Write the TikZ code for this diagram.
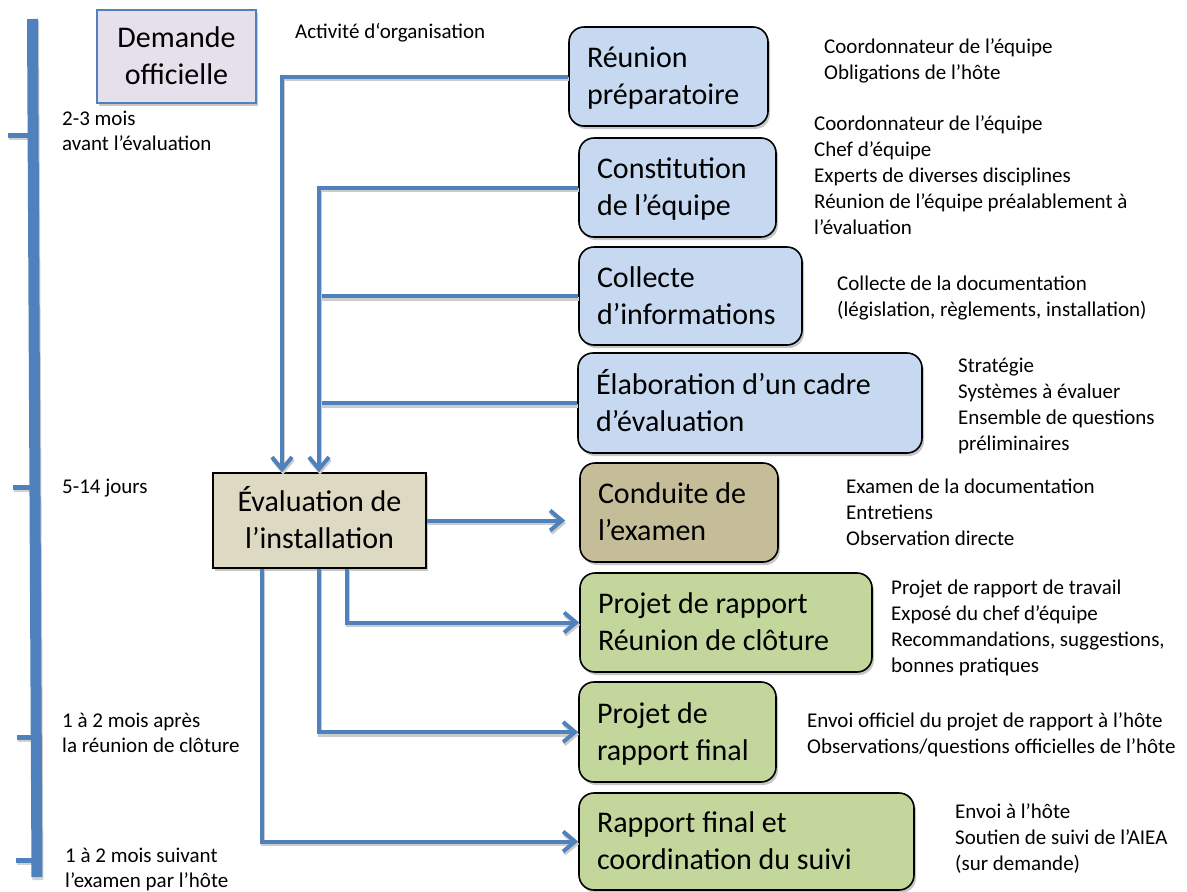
\documentclass[tikz,border=0pt]{standalone}
\usepackage{fontspec}
\setmainfont{Carlito}
\usetikzlibrary{arrows.meta,shadows,calc}
\definecolor{lnblue}{HTML}{4F81BD}
\definecolor{lav}{HTML}{E6E0EC}
\definecolor{ltblue}{HTML}{C6D9F1}
\definecolor{tanc}{HTML}{C4BD97}
\definecolor{beige}{HTML}{DDD9C3}
\definecolor{ltgreen}{HTML}{C3D69B}
\newcommand{\bigfnt}{\fontsize{30}{37}\selectfont}
\newcommand{\smfnt}{\fontsize{21}{26}\selectfont}
\newcommand{\tlfnt}{\fontsize{21}{25}\selectfont}
\newcommand{\topst}{\rule{0pt}{31pt}}
\hyphenpenalty=10000
\exhyphenpenalty=10000
\tikzset{
  shad/.style={drop shadow={shadow xshift=2pt, shadow yshift=-3pt, fill=black!22, opacity=1}},
  stage/.style={draw=black, line width=1.6pt, rounded corners=15pt, inner xsep=18pt, inner ysep=0pt, align=flush left, font=\bigfnt, shad},
  plainbox/.style={line width=1.6pt, inner xsep=10pt, inner ysep=0pt, align=flush center, font=\bigfnt, shad},
  conn/.style={draw=lnblue, line width=4pt, preaction={draw=black!20, line width=4pt, transform canvas={shift={(1pt,-2.5pt)}}}},
  arr/.style={-{Straight Barb[length=12pt,width=20pt]}},
  tlshadow/.style={draw=black!18, line width=11pt},
  tl/.style={draw=lnblue, line width=11pt},
  tickshadow/.style={draw=black!18, line width=5pt},
  tick/.style={draw=lnblue, line width=5pt},
  lst/.style={anchor=base west, inner sep=0pt, font=\smfnt},
  tlab/.style={anchor=base west, inner sep=0pt, font=\tlfnt},
}
\begin{document}
\begin{tikzpicture}[x=1pt,y=-1pt]
\useasboundingbox (0,0) rectangle (1187,892);

% timeline
\coordinate (tTop) at (32.5,19);
\coordinate (tBot) at (37,877);
\coordinate (k1) at (8,135);
\coordinate (k2) at (13,487);
\coordinate (k3) at (17,737);
\coordinate (k4) at (16,860);
\draw[tlshadow] ($(tTop)+(1,2)$) -- ($(tBot)+(1,3)$);
\draw[tickshadow] ($(k1)+(1,2.5)$) -- ++(26,0);
\draw[tickshadow] ($(k2)+(1,2.5)$) -- ++(23,0);
\draw[tickshadow] ($(k3)+(1,2.5)$) -- ++(20,0);
\draw[tickshadow] ($(k4)+(1,2.5)$) -- ++(21,0);
\draw[tl] (tTop) -- (tBot);
\draw[tick] (k1) -- ++(26,0);
\draw[tick] (k2) -- ++(23,0);
\draw[tick] (k3) -- ++(20,0);
\draw[tick] (k4) -- ++(21,0);

\node[tlab] (t1) at (62,125) {\begin{tabular}[t]{@{}l@{}}2-3 mois\\avant l’évaluation\end{tabular}};
\node[tlab] (t2) at (62,493) {5-14 jours};
\node[tlab] (t3) at (62,727) {\begin{tabular}[t]{@{}l@{}}1 à 2 mois après\\la réunion de clôture\end{tabular}};
\node[tlab] (t4) at (65,862) {\begin{tabular}[t]{@{}l@{}}1 à 2 mois suivant\\l’examen par l’hôte\end{tabular}};

% boxes
\node[plainbox, draw=lnblue, fill=lav, text width=139pt, minimum height=93pt] (demande) at (176.5,56.5) {\topst Demande\\officielle\strut};
\node[plainbox, draw=black, fill=beige, text width=193pt, minimum height=95pt] (eval) at (319.5,520.5) {\topst Évaluation de\\l’installation\strut};

\node[stage, fill=ltblue, text width=163pt, minimum height=99pt] (reunion) at (668.5,76.5) {\topst Réunion\\préparatoire\strut};
\node[stage, fill=ltblue, text width=161pt, minimum height=99pt] (constit) at (677.5,187.5) {\topst Constitution\\de l’équipe\strut};
\node[stage, fill=ltblue, text width=187pt, minimum height=98pt] (collecte) at (690.5,296) {\topst Collecte\\d’informations\strut};
\node[stage, fill=ltblue, text width=308pt, minimum height=100pt] (elab) at (750,403) {\topst Élaboration d’un cadre\\d’évaluation\strut};
\node[stage, fill=tanc, text width=162pt, minimum height=99pt] (conduite) at (679,512.5) {\topst Conduite de\\l’examen\strut};
\node[stage, fill=ltgreen, text width=256pt, minimum height=99pt] (projet) at (726,622.5) {\topst Projet de rapport\\Réunion de clôture\strut};
\node[stage, fill=ltgreen, text width=161pt, minimum height=100pt] (final) at (677.5,732) {\topst Projet de\\rapport final\strut};
\node[stage, fill=ltgreen, text width=299pt, minimum height=97pt] (rapport) at (746.5,841.5) {\topst Rapport final et\\coordination du suivi\strut};

% texts
\node[lst] (org) at (295,38) {Activité d‘organisation};
\node[lst] (la) at (824,53) {\begin{tabular}[t]{@{}l@{}}Coordonnateur de l’équipe\\Obligations de l’hôte\end{tabular}};
\node[lst] (lb) at (814,130) {\begin{tabular}[t]{@{}l@{}}Coordonnateur de l’équipe\\Chef d’équipe\\Experts de diverses disciplines\\Réunion de l’équipe préalablement à\\l’évaluation\end{tabular}};
\node[lst] (lc) at (837,290) {\begin{tabular}[t]{@{}l@{}}Collecte de la documentation\\(législation, règlements, installation)\end{tabular}};
\node[lst] (ld) at (958,372) {\begin{tabular}[t]{@{}l@{}}Stratégie\\Systèmes à évaluer\\Ensemble de questions\\préliminaires\end{tabular}};
\node[lst] (le) at (846,493) {\begin{tabular}[t]{@{}l@{}}Examen de la documentation\\Entretiens\\Observation directe\end{tabular}};
\node[lst] (lf) at (891,594) {\begin{tabular}[t]{@{}l@{}}Projet de rapport de travail\\Exposé du chef d’équipe\\Recommandations, suggestions,\\bonnes pratiques\end{tabular}};
\node[lst] (lg) at (807,727) {\begin{tabular}[t]{@{}l@{}}Envoi officiel du projet de rapport à l’hôte\\Observations/questions officielles de l’hôte\end{tabular}};
\node[lst] (lh) at (955,818) {\begin{tabular}[t]{@{}l@{}}Envoi à l’hôte\\Soutien de suivi de l’AIEA\\(sur demande)\end{tabular}};

% connectors
\coordinate (inA) at ($(eval.north)+(-37.5,0)$);
\coordinate (inB) at ($(eval.north)+(-0.5,0)$);
\draw[conn] (collecte.west) -- (collecte.west -| inB);
\draw[conn] (elab.west) -- (elab.west -| inB);
\draw[conn, arr] (reunion.west) -| (inA);
\draw[conn, arr] (constit.west) -| (inB);
\draw[conn, arr] (eval.east) -- ($(eval.east -| conduite.west)+(-14,0)$);
\draw[conn, arr] ($(eval.south)+(27.5,0)$) |- (projet.west);
\draw[conn, arr] ($(eval.south)+(-0.5,0)$) |- (final.west);
\draw[conn, arr] ($(eval.south)+(-57.5,0)$) |- (rapport.west);
\end{tikzpicture}
\end{document}
